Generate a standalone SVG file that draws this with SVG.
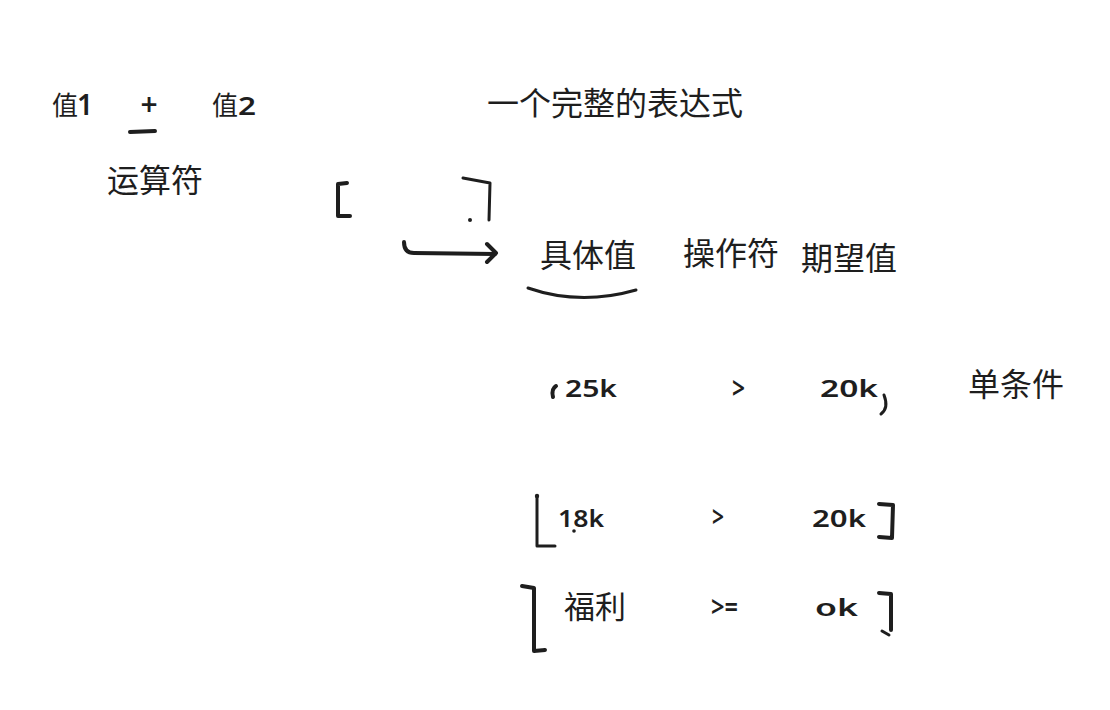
<svg xmlns="http://www.w3.org/2000/svg" width="1110" height="710" viewBox="0 0 1110 710">
<style>
.cjk{font-family:"Noto Sans CJK SC","Noto Sans",sans-serif;fill:#1e1e1e}
.hw{font-family:"Noto Sans","Liberation Sans",sans-serif;fill:#1e1e1e;font-weight:600}
.s{fill:none;stroke:#1e1e1e;stroke-width:3;stroke-linecap:round;stroke-linejoin:round}
.t{fill:none;stroke:#1e1e1e;stroke-width:4;stroke-linecap:round;stroke-linejoin:round}
</style>
<rect width="1110" height="710" fill="#ffffff"/>
<g id="value1"><text class="cjk" x="52" y="115" font-size="26">值</text><text class="hw" x="77" y="115" font-size="28">1</text></g>
<g id="operator-plus"><text class="hw" x="149" y="115" font-size="30" font-weight="bold" text-anchor="middle">+</text><path class="t" d="M130,132 L155,131"/></g>
<g id="value2"><text class="cjk" x="212" y="115" font-size="26">值</text><text class="hw" x="238" y="115" font-size="26" textLength="18" lengthAdjust="spacingAndGlyphs">2</text></g>
<g id="full-expression"><text class="cjk" x="487" y="115" font-size="32">一个完整的表达式</text></g>
<g id="operator-label"><text class="cjk" x="107" y="192" font-size="32">运算符</text></g>
<g id="bracket-open"><path class="t" d="M347,183 L338,184 L338,216 L350,216"/></g>
<g id="bracket-close"><path class="s" d="M463,178 L490,183 L489,220"/><circle cx="470" cy="220" r="2" fill="#1e1e1e"/></g>
<g id="actual-value"><text class="cjk" x="540" y="267" font-size="32">具体值</text><path class="s" d="M528,288 Q580,306 636,290" stroke-width="2.5"/></g>
<g id="operator"><text class="cjk" x="683" y="265" font-size="32">操作符</text></g>
<g id="expected-value"><text class="cjk" x="801" y="270" font-size="32">期望值</text></g>
<g id="single-condition"><text class="cjk" x="968" y="396" font-size="32">单条件</text></g>
<g id="row1">
<path class="t" d="M553,397 Q551,389 556,386"/>
<text class="hw" x="565" y="397" font-size="24" textLength="52" lengthAdjust="spacingAndGlyphs">25k</text>
<text class="hw" x="732" y="399" font-size="30" textLength="13" lengthAdjust="spacingAndGlyphs">&gt;</text>
<text class="hw" x="820" y="397" font-size="24" textLength="58" lengthAdjust="spacingAndGlyphs">20k</text>
<path class="s" d="M884,395 Q889,408 881,414"/>
</g>
<g id="row2">
<circle cx="537" cy="496" r="2.2" fill="#1e1e1e"/>
<path class="s" d="M537,497 L537,546 L555,546"/>
<text class="hw" x="558" y="527" font-size="24" textLength="46" lengthAdjust="spacingAndGlyphs">18k</text>
<circle cx="574" cy="531" r="1.8" fill="#1e1e1e"/>
<text class="hw" x="712" y="527" font-size="28" textLength="12" lengthAdjust="spacingAndGlyphs">&gt;</text>
<text class="hw" x="812" y="527" font-size="24" textLength="54" lengthAdjust="spacingAndGlyphs">20k</text>
<path class="t" d="M879,504 L893,505 L892,538 L879,537"/>
</g>
<g id="row3">
<path class="t" d="M522,586 L534,588 L534,651 L545,650"/>
<text class="cjk" x="564" y="618" font-size="31">福利</text>
<text class="hw" x="711" y="617" font-size="28" textLength="27" lengthAdjust="spacingAndGlyphs">&gt;=</text>
<text class="hw" x="815" y="616" font-size="24" textLength="43" lengthAdjust="spacingAndGlyphs">ok</text>
<path class="t" d="M879,593 L891,594 L891,630"/>
<path class="s" d="M882,631 L889,635" stroke-width="4"/>
</g>
<g id="connectors">
<path class="t" d="M404,242 Q404,253 414,253 L495,254"/>
<path class="t" d="M487,244 L496,253 L487,262"/>
</g>
</svg>
